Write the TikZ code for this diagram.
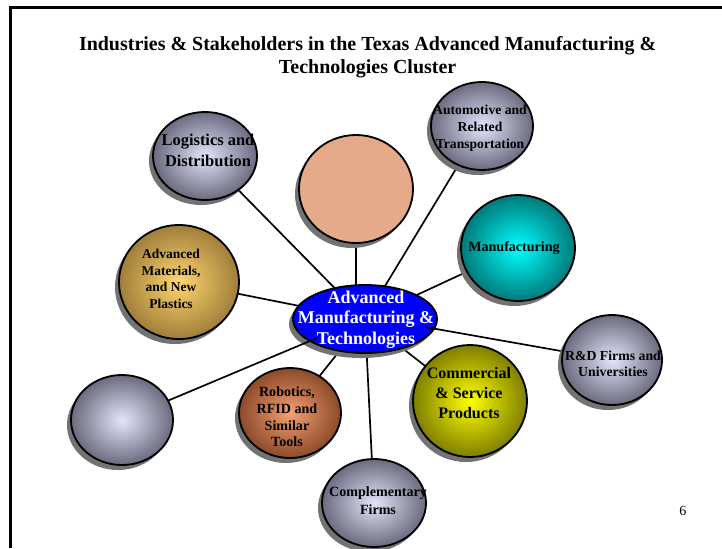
\documentclass[tikz,border=0pt]{standalone}
\usepackage{fontspec}
\setmainfont{Liberation Serif}
\usepackage{xcolor}
\definecolor{clusterHub}{HTML}{0000FF}
\definecolor{clusterPeach}{HTML}{E5AA8A}
\definecolor{steelLite}{HTML}{E4E4FA}
\definecolor{steelDark}{HTML}{6B6B80}
\definecolor{goldLite}{HTML}{FFD66E}
\definecolor{goldDark}{HTML}{A07E3A}
\definecolor{tealLite}{HTML}{00FFFF}
\definecolor{tealDark}{HTML}{007A7A}
\definecolor{limeLite}{HTML}{FFFF00}
\definecolor{limeDark}{HTML}{7F7F00}
\definecolor{rustLite}{HTML}{F5A070}
\definecolor{rustDark}{HTML}{8C4A2A}
\usetikzlibrary{shapes.geometric,shadows}
\pgfdeclarelayer{links}
\pgfdeclarelayer{hubs}
\pgfsetlayers{links,hubs,main}

\tikzset{
  ball/.style={ellipse, draw=black, line width=1.3pt, inner sep=0pt,
    drop shadow={shadow xshift=-0.1cm, shadow yshift=-0.125cm, fill=black!55, opacity=1}},
  steelBall/.style={ball, inner color=steelLite, outer color=steelDark},
  goldBall/.style={ball, inner color=goldLite, outer color=goldDark},
  tealBall/.style={ball, inner color=tealLite, outer color=tealDark},
  limeBall/.style={ball, inner color=limeLite, outer color=limeDark},
  rustBall/.style={ball, inner color=rustLite, outer color=rustDark},
  ballText/.style={align=center, inner sep=0pt},
  link/.style={draw=black, line width=1.2pt},
}

\begin{document}
\begin{tikzpicture}
  \useasboundingbox (0cm,0cm) rectangle (18.05cm,-13.7cm);
  \draw[line width=2.1pt] (0.2625cm,-13.7cm) -- (0.2625cm,-0.195cm) -- (18.05cm,-0.195cm);
  \node[align=center, font=\bfseries\fontsize{14.2}{16.2}\selectfont] (title) at (9.19cm,-1.43cm)
    {Industries \& Stakeholders in the Texas Advanced Manufacturing \&\\Technologies Cluster};

  % centre of the cluster
  \begin{pgfonlayer}{hubs}
    \node[ball, fill=clusterHub, minimum width=3.6cm, minimum height=1.7cm] (hub) at (9.125cm,-7.975cm) {};
  \end{pgfonlayer}
  \node[ballText, text=white, font=\bfseries\fontsize{12.8}{14.6}\selectfont] (hubText) at (9.15cm,-7.99cm)
    {Advanced\\Manufacturing \&\\Technologies};

  % the bubbles round it
  \node[steelBall, minimum width=2.6cm, minimum height=2.2cm] (logi) at (5.125cm,-3.9cm) {};
  \node[ballText, font=\bfseries\fontsize{11.7}{15}\selectfont] (logiText) at (5.2cm,-3.76cm)
    {Logistics and\\Distribution};
  \node[ball, fill=clusterPeach, minimum width=2.85cm, minimum height=2.7cm] (peach) at (8.9cm,-4.725cm) {};
  \node[steelBall, minimum width=2.55cm, minimum height=2.2cm] (auto) at (12.05cm,-3.15cm) {};
  \node[ballText, font=\bfseries\fontsize{9.7}{12}\selectfont] (autoText) at (12.0cm,-3.2cm)
    {Automotive and\\Related\\Transportation};
  \node[tealBall, minimum width=2.85cm, minimum height=2.65cm] (manu) at (12.95cm,-6.2cm) {};
  \node[ballText, font=\bfseries\fontsize{10}{12}\selectfont] (manuText) at (12.85cm,-6.2cm)
    {Manufacturing};
  \node[goldBall, minimum width=3.0cm, minimum height=2.85cm] (mate) at (4.475cm,-7.05cm) {};
  \node[ballText, font=\bfseries\fontsize{9.6}{11.9}\selectfont] (mateText) at (4.275cm,-6.975cm)
    {Advanced\\Materials,\\and New\\Plastics};
  \node[steelBall, minimum width=2.5cm, minimum height=2.25cm] (rd) at (15.3cm,-9.0cm) {};
  \node[ballText, font=\bfseries\fontsize{9.8}{11.4}\selectfont] (rdText) at (15.325cm,-9.1cm)
    {R\&D Firms and\\Universities};
  \node[limeBall, minimum width=2.85cm, minimum height=2.8cm] (comm) at (11.75cm,-10.025cm) {};
  \node[ballText, font=\bfseries\fontsize{11.4}{14.2}\selectfont] (commText) at (11.725cm,-9.825cm)
    {Commercial\\\& Service\\Products};
  \node[steelBall, minimum width=2.55cm, minimum height=2.25cm] (blank) at (3.05cm,-10.5cm) {};
  \node[rustBall, minimum width=2.55cm, minimum height=2.25cm] (robo) at (7.25cm,-10.325cm) {};
  \node[ballText, font=\bfseries\fontsize{10}{11.9}\selectfont] (roboText) at (7.175cm,-10.425cm)
    {Robotics,\\RFID and\\Similar\\Tools};
  \node[steelBall, minimum width=2.6cm, minimum height=2.2cm] (comp) at (9.35cm,-12.575cm) {};
  \node[ballText, font=\bfseries\fontsize{10}{12.8}\selectfont] (compText) at (9.45cm,-12.525cm)
    {Complementary\\Firms};

  \node[font=\fontsize{10}{12}\selectfont] (page) at (17.075cm,-12.775cm) {6};

  % spokes, under everything
  \begin{pgfonlayer}{links}
    \foreach \spoke in {logi,auto,manu,mate,comm,robo,comp}
      \draw[link] (hub.center) -- (\spoke.center);
    \draw[link] (hub.center -| peach.center) -- (peach.center);
  \end{pgfonlayer}
  % these two run over the hub
  \begin{pgfonlayer}{hubs}
    \coordinate (rdFoot) at (10.625cm,-8.175cm);
    \coordinate (blankFoot) at (7.925cm,-8.45cm);
    \draw[link] (rdFoot) -- (rd.center);
    \draw[link] (blankFoot) -- (blank.center);
  \end{pgfonlayer}
\end{tikzpicture}
\end{document}
